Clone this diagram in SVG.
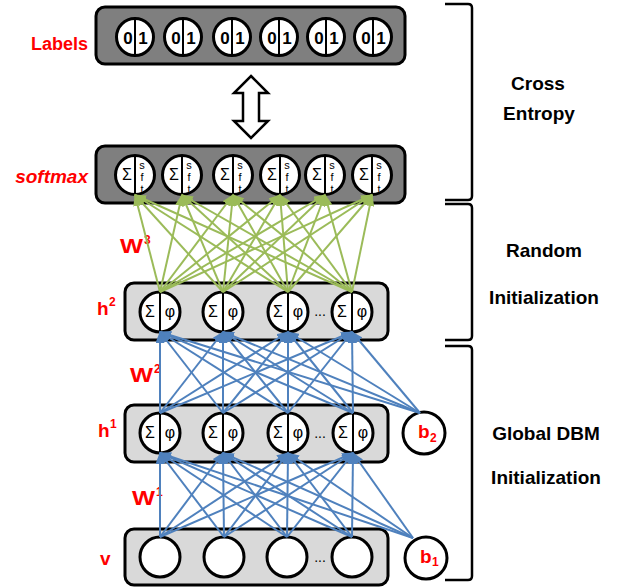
<svg xmlns="http://www.w3.org/2000/svg" width="633" height="588" viewBox="0 0 633 588">
<style>
.bd{fill:#7f7f7f;stroke:#000;stroke-width:3}
.bl{fill:#d9d9d9;stroke:#000;stroke-width:3}
.nd{fill:#fff;stroke:#000;stroke-width:3}
.dv{stroke:#000;stroke-width:2}
.g{stroke:#9bbb59;stroke-width:2;marker-end:url(#ag)}
.b{stroke:#4f81bd;stroke-width:2;marker-end:url(#ab)}
text{font-family:"Liberation Sans",Arial,sans-serif}
.sym{font-size:16px;text-anchor:middle}
.st{font-size:11px;text-anchor:middle}
.bit{font-size:17px;font-weight:bold;text-anchor:middle}
.red{fill:#f00;font-weight:bold}
.dots{font-size:14px;text-anchor:middle}
.side{font-size:19px;font-weight:bold;text-anchor:middle}
.br{fill:none;stroke:#000;stroke-width:2.5}
</style>
<defs>
<marker id="ag" markerUnits="userSpaceOnUse" markerWidth="12" markerHeight="9" refX="11" refY="4.5" orient="auto"><path d="M0,0 L12,4.5 L0,9 z" fill="#9bbb59"/></marker>
<marker id="ab" markerUnits="userSpaceOnUse" markerWidth="12" markerHeight="9" refX="11" refY="4.5" orient="auto"><path d="M0,0 L12,4.5 L0,9 z" fill="#4f81bd"/></marker>
<clipPath id="cc"><circle cx="0" cy="0" r="18"/></clipPath>
</defs>

<!-- Labels layer -->
<g id="labels-layer">
<rect class="bd" x="96" y="7" width="309" height="57" rx="9"/>
<text class="red" x="88" y="50" font-size="18" text-anchor="end">Labels</text>
</g>
<g id="lab1" transform="translate(135,37)"><circle class="nd" r="18.5"/><line class="dv" x1="0" y1="-18.5" x2="0" y2="18.5"/><text class="bit" x="-7" y="7">0</text><text class="bit" x="8" y="7">1</text></g>
<g id="lab2" transform="translate(183,37)"><circle class="nd" r="18.5"/><line class="dv" x1="0" y1="-18.5" x2="0" y2="18.5"/><text class="bit" x="-7" y="7">0</text><text class="bit" x="8" y="7">1</text></g>
<g id="lab3" transform="translate(232,37)"><circle class="nd" r="18.5"/><line class="dv" x1="0" y1="-18.5" x2="0" y2="18.5"/><text class="bit" x="-7" y="7">0</text><text class="bit" x="8" y="7">1</text></g>
<g id="lab4" transform="translate(279,37)"><circle class="nd" r="18.5"/><line class="dv" x1="0" y1="-18.5" x2="0" y2="18.5"/><text class="bit" x="-7" y="7">0</text><text class="bit" x="8" y="7">1</text></g>
<g id="lab5" transform="translate(326,37)"><circle class="nd" r="18.5"/><line class="dv" x1="0" y1="-18.5" x2="0" y2="18.5"/><text class="bit" x="-7" y="7">0</text><text class="bit" x="8" y="7">1</text></g>
<g id="lab6" transform="translate(373,37)"><circle class="nd" r="18.5"/><line class="dv" x1="0" y1="-18.5" x2="0" y2="18.5"/><text class="bit" x="-7" y="7">0</text><text class="bit" x="8" y="7">1</text></g>

<!-- softmax layer -->
<g id="softmax-layer">
<rect class="bd" x="96" y="146" width="309" height="57" rx="9"/>
<text class="red" x="88" y="183" font-size="19" font-style="italic" text-anchor="end">softmax</text>
</g>
<g id="sm1" transform="translate(135,175)"><circle class="nd" r="19.5"/><line class="dv" x1="0" y1="-19.5" x2="0" y2="19.5"/><text class="sym" x="-8" y="5">Σ</text><g clip-path="url(#cc)"><text class="st" x="7" y="-6">s</text><text class="st" x="7" y="6">f</text><text class="st" x="7" y="18">t</text></g></g>
<g id="sm2" transform="translate(182,175)"><circle class="nd" r="19.5"/><line class="dv" x1="0" y1="-19.5" x2="0" y2="19.5"/><text class="sym" x="-8" y="5">Σ</text><g clip-path="url(#cc)"><text class="st" x="7" y="-6">s</text><text class="st" x="7" y="6">f</text><text class="st" x="7" y="18">t</text></g></g>
<g id="sm3" transform="translate(233,175)"><circle class="nd" r="19.5"/><line class="dv" x1="0" y1="-19.5" x2="0" y2="19.5"/><text class="sym" x="-8" y="5">Σ</text><g clip-path="url(#cc)"><text class="st" x="7" y="-6">s</text><text class="st" x="7" y="6">f</text><text class="st" x="7" y="18">t</text></g></g>
<g id="sm4" transform="translate(280,175)"><circle class="nd" r="19.5"/><line class="dv" x1="0" y1="-19.5" x2="0" y2="19.5"/><text class="sym" x="-8" y="5">Σ</text><g clip-path="url(#cc)"><text class="st" x="7" y="-6">s</text><text class="st" x="7" y="6">f</text><text class="st" x="7" y="18">t</text></g></g>
<g id="sm5" transform="translate(325,175)"><circle class="nd" r="19.5"/><line class="dv" x1="0" y1="-19.5" x2="0" y2="19.5"/><text class="sym" x="-8" y="5">Σ</text><g clip-path="url(#cc)"><text class="st" x="7" y="-6">s</text><text class="st" x="7" y="6">f</text><text class="st" x="7" y="18">t</text></g></g>
<g id="sm6" transform="translate(372,175)"><circle class="nd" r="19.5"/><line class="dv" x1="0" y1="-19.5" x2="0" y2="19.5"/><text class="sym" x="-8" y="5">Σ</text><g clip-path="url(#cc)"><text class="st" x="7" y="-6">s</text><text class="st" x="7" y="6">f</text><text class="st" x="7" y="18">t</text></g></g>

<!-- h2 layer -->
<g id="h2-layer">
<rect class="bl" x="125" y="283" width="263" height="57" rx="9"/>
<text class="red" x="97" y="315" font-size="19">h</text><text class="red" x="109" y="306" font-size="12">2</text>
<text class="dots" x="320" y="316">...</text>
</g>
<g id="h2n1" transform="translate(160,312)"><circle class="nd" r="20"/><line class="dv" x1="0" y1="-20" x2="0" y2="20"/><text class="sym" x="-10" y="5">Σ</text><text class="sym" x="10" y="5">φ</text></g>
<g id="h2n2" transform="translate(223,312)"><circle class="nd" r="20"/><line class="dv" x1="0" y1="-20" x2="0" y2="20"/><text class="sym" x="-10" y="5">Σ</text><text class="sym" x="10" y="5">φ</text></g>
<g id="h2n3" transform="translate(288,312)"><circle class="nd" r="20"/><line class="dv" x1="0" y1="-20" x2="0" y2="20"/><text class="sym" x="-10" y="5">Σ</text><text class="sym" x="10" y="5">φ</text></g>
<g id="h2n4" transform="translate(352,312)"><circle class="nd" r="20"/><line class="dv" x1="0" y1="-20" x2="0" y2="20"/><text class="sym" x="-10" y="5">Σ</text><text class="sym" x="10" y="5">φ</text></g>

<!-- h1 layer -->
<g id="h1-layer">
<rect class="bl" x="125" y="405" width="263" height="57" rx="9"/>
<text class="red" x="98" y="437" font-size="19">h</text><text class="red" x="110" y="428" font-size="12">1</text>
<text class="dots" x="320" y="438">...</text>
</g>
<g id="h1n1" transform="translate(160,433)"><circle class="nd" r="20"/><line class="dv" x1="0" y1="-20" x2="0" y2="20"/><text class="sym" x="-10" y="5">Σ</text><text class="sym" x="10" y="5">φ</text></g>
<g id="h1n2" transform="translate(223,433)"><circle class="nd" r="20"/><line class="dv" x1="0" y1="-20" x2="0" y2="20"/><text class="sym" x="-10" y="5">Σ</text><text class="sym" x="10" y="5">φ</text></g>
<g id="h1n3" transform="translate(288,433)"><circle class="nd" r="20"/><line class="dv" x1="0" y1="-20" x2="0" y2="20"/><text class="sym" x="-10" y="5">Σ</text><text class="sym" x="10" y="5">φ</text></g>
<g id="h1n4" transform="translate(353,433)"><circle class="nd" r="20"/><line class="dv" x1="0" y1="-20" x2="0" y2="20"/><text class="sym" x="-10" y="5">Σ</text><text class="sym" x="10" y="5">φ</text></g>
<g id="b2" transform="translate(424,433)"><circle class="nd" r="21"/><text class="red" x="-6" y="5" font-size="19">b</text><text class="red" x="6" y="9" font-size="12">2</text></g>

<!-- v layer -->
<g id="v-layer">
<rect class="bl" x="125" y="529" width="263" height="56" rx="9"/>
<text class="red" x="100" y="565" font-size="19">v</text>
<text class="dots" x="320" y="562">...</text>
</g>
<g id="v1" transform="translate(160,557)"><circle class="nd" r="20"/></g>
<g id="v2" transform="translate(224,557)"><circle class="nd" r="20"/></g>
<g id="v3" transform="translate(287,557)"><circle class="nd" r="20"/></g>
<g id="v4" transform="translate(352,557)"><circle class="nd" r="20"/></g>
<g id="b1" transform="translate(426,558)"><circle class="nd" r="21"/><text class="red" x="-6" y="5" font-size="19">b</text><text class="red" x="6" y="8" font-size="12">1</text></g>

<!-- weight labels -->
<g id="weight-labels">
<text class="red" x="120" y="253" font-size="20" textLength="23" lengthAdjust="spacingAndGlyphs">W</text><text class="red" x="144" y="244" font-size="12">3</text>
<text class="red" x="130" y="382" font-size="20" textLength="23" lengthAdjust="spacingAndGlyphs">W</text><text class="red" x="154" y="373" font-size="12">2</text>
<text class="red" x="132" y="505" font-size="20" textLength="23" lengthAdjust="spacingAndGlyphs">W</text><text class="red" x="156" y="496" font-size="12">1</text>
</g>

<!-- connectors -->
<g id="connectors">
<polygon points="251,76 268,93 259,93 259,121 268,121 251,138 234,121 243,121 243,93 234,93" fill="#fff" stroke="#000" stroke-width="2.5" stroke-linejoin="miter"/>
<g id="w3">
<line class="g" x1="160" y1="292" x2="135" y2="195"/><line class="g" x1="160" y1="292" x2="182" y2="195"/><line class="g" x1="160" y1="292" x2="233" y2="195"/><line class="g" x1="160" y1="292" x2="280" y2="195"/><line class="g" x1="160" y1="292" x2="325" y2="195"/><line class="g" x1="160" y1="292" x2="372" y2="195"/>
<line class="g" x1="223" y1="292" x2="135" y2="195"/><line class="g" x1="223" y1="292" x2="182" y2="195"/><line class="g" x1="223" y1="292" x2="233" y2="195"/><line class="g" x1="223" y1="292" x2="280" y2="195"/><line class="g" x1="223" y1="292" x2="325" y2="195"/><line class="g" x1="223" y1="292" x2="372" y2="195"/>
<line class="g" x1="288" y1="292" x2="135" y2="195"/><line class="g" x1="288" y1="292" x2="182" y2="195"/><line class="g" x1="288" y1="292" x2="233" y2="195"/><line class="g" x1="288" y1="292" x2="280" y2="195"/><line class="g" x1="288" y1="292" x2="325" y2="195"/><line class="g" x1="288" y1="292" x2="372" y2="195"/>
<line class="g" x1="352" y1="292" x2="135" y2="195"/><line class="g" x1="352" y1="292" x2="182" y2="195"/><line class="g" x1="352" y1="292" x2="233" y2="195"/><line class="g" x1="352" y1="292" x2="280" y2="195"/><line class="g" x1="352" y1="292" x2="325" y2="195"/><line class="g" x1="352" y1="292" x2="372" y2="195"/>
</g>
<g id="w2">
<line class="b" x1="160" y1="413" x2="160" y2="332"/><line class="b" x1="160" y1="413" x2="223" y2="332"/><line class="b" x1="160" y1="413" x2="288" y2="332"/><line class="b" x1="160" y1="413" x2="352" y2="332"/>
<line class="b" x1="223" y1="413" x2="160" y2="332"/><line class="b" x1="223" y1="413" x2="223" y2="332"/><line class="b" x1="223" y1="413" x2="288" y2="332"/><line class="b" x1="223" y1="413" x2="352" y2="332"/>
<line class="b" x1="288" y1="413" x2="160" y2="332"/><line class="b" x1="288" y1="413" x2="223" y2="332"/><line class="b" x1="288" y1="413" x2="288" y2="332"/><line class="b" x1="288" y1="413" x2="352" y2="332"/>
<line class="b" x1="353" y1="413" x2="160" y2="332"/><line class="b" x1="353" y1="413" x2="223" y2="332"/><line class="b" x1="353" y1="413" x2="288" y2="332"/><line class="b" x1="353" y1="413" x2="352" y2="332"/>
<line class="b" x1="420" y1="413" x2="160" y2="332"/><line class="b" x1="420" y1="413" x2="223" y2="332"/><line class="b" x1="420" y1="413" x2="288" y2="332"/><line class="b" x1="420" y1="413" x2="352" y2="332"/>
</g>
<g id="w1">
<line class="b" x1="160" y1="537" x2="160" y2="453"/><line class="b" x1="160" y1="537" x2="223" y2="453"/><line class="b" x1="160" y1="537" x2="288" y2="453"/><line class="b" x1="160" y1="537" x2="353" y2="453"/>
<line class="b" x1="224" y1="537" x2="160" y2="453"/><line class="b" x1="224" y1="537" x2="223" y2="453"/><line class="b" x1="224" y1="537" x2="288" y2="453"/><line class="b" x1="224" y1="537" x2="353" y2="453"/>
<line class="b" x1="287" y1="537" x2="160" y2="453"/><line class="b" x1="287" y1="537" x2="223" y2="453"/><line class="b" x1="287" y1="537" x2="288" y2="453"/><line class="b" x1="287" y1="537" x2="353" y2="453"/>
<line class="b" x1="352" y1="537" x2="160" y2="453"/><line class="b" x1="352" y1="537" x2="223" y2="453"/><line class="b" x1="352" y1="537" x2="288" y2="453"/><line class="b" x1="352" y1="537" x2="353" y2="453"/>
<line class="b" x1="413" y1="538" x2="160" y2="453"/><line class="b" x1="413" y1="538" x2="223" y2="453"/><line class="b" x1="413" y1="538" x2="288" y2="453"/><line class="b" x1="413" y1="538" x2="353" y2="453"/>
</g>
</g>

<!-- braces and phase labels -->
<g id="phase-cross-entropy">
<path class="br" d="M445,4 L468,4 Q472,4 472,8 L472,196 Q472,200 468,200 L445,200"/>
<text class="side" x="538" y="90">Cross</text>
<text class="side" x="539" y="120">Entropy</text>
</g>
<g id="phase-random">
<path class="br" d="M445,204 L468,204 Q472,204 472,208 L472,336 Q472,340 468,340 L445,340"/>
<text class="side" x="544" y="257">Random</text>
<text class="side" x="544" y="304">Initialization</text>
</g>
<g id="phase-dbm">
<path class="br" d="M445,346 L468,346 Q472,346 472,350 L472,576 Q472,580 468,580 L445,580"/>
<text class="side" x="546" y="440">Global DBM</text>
<text class="side" x="546" y="484">Initialization</text>
</g>
</svg>
